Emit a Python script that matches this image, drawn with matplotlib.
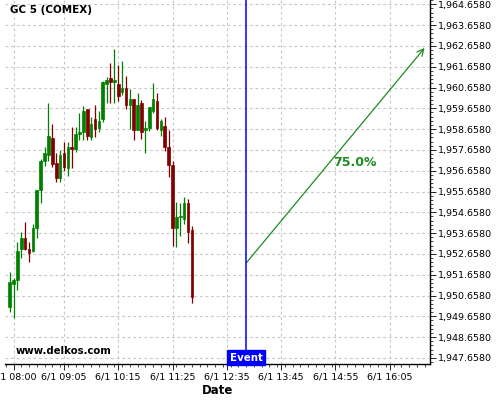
import numpy as np
import pandas as pd
import matplotlib
matplotlib.use("Agg")
import matplotlib.pyplot as plt
import matplotlib.dates as mdates
from matplotlib.ticker import FuncFormatter, FixedLocator
from matplotlib.transforms import blended_transform_factory

# 5-minute candles, 6/1 from 07:55
opens = [1950.12, 1951.23, 1951.40, 1952.89, 1953.41, 1952.89, 1952.81, 1953.92,
         1955.73, 1957.14, 1957.41, 1958.22, 1957.01, 1956.32, 1957.49, 1956.77,
         1957.81, 1957.72, 1958.42, 1958.52, 1959.61, 1958.26, 1959.13, 1958.73,
         1959.14, 1960.83, 1961.12, 1960.92, 1960.83, 1960.44, 1960.63, 1959.82,
         1960.09, 1958.62, 1959.91, 1958.62, 1958.71, 1959.54, 1960.01, 1958.62,
         1958.81, 1957.81, 1956.95, 1953.92, 1954.43, 1954.35, 1955.11, 1953.79]
highs = [1951.77, 1951.51, 1953.24, 1953.73, 1954.18, 1953.22, 1954.08, 1955.73,
         1957.21, 1957.78, 1959.90, 1958.89, 1957.49, 1957.65, 1958.02, 1958.02,
         1958.77, 1958.77, 1959.42, 1959.78, 1959.61, 1959.25, 1959.80, 1959.53,
         1960.99, 1961.18, 1961.82, 1962.50, 1961.73, 1961.92, 1961.21, 1960.60,
         1960.09, 1960.41, 1960.06, 1959.05, 1959.71, 1960.89, 1960.41, 1959.16,
         1959.23, 1958.62, 1957.12, 1955.17, 1955.09, 1955.39, 1955.30, 1954.01]
lows = [1949.88, 1949.59, 1950.92, 1952.48, 1952.85, 1952.28, 1952.76, 1953.41,
        1955.09, 1956.90, 1957.12, 1956.82, 1956.10, 1956.13, 1956.64, 1956.40,
        1956.77, 1957.57, 1958.13, 1958.13, 1958.13, 1958.13, 1958.29, 1958.50,
        1959.00, 1959.90, 1959.90, 1959.90, 1960.02, 1960.31, 1959.61, 1958.68,
        1958.12, 1958.62, 1958.20, 1957.49, 1958.58, 1959.45, 1958.62, 1958.33,
        1957.59, 1956.37, 1953.05, 1952.98, 1953.50, 1954.08, 1953.20, 1950.28]
closes = [1951.29, 1951.39, 1952.80, 1953.41, 1952.89, 1952.72, 1953.89, 1955.73,
          1957.12, 1957.49, 1958.33, 1956.97, 1956.32, 1957.41, 1956.85, 1957.78,
          1957.72, 1958.42, 1958.52, 1959.53, 1958.34, 1958.90, 1958.65, 1959.06,
          1960.92, 1961.02, 1960.94, 1961.02, 1960.26, 1960.63, 1959.82, 1960.09,
          1958.62, 1959.82, 1958.52, 1958.71, 1959.71, 1960.11, 1958.71, 1959.05,
          1957.81, 1956.95, 1953.92, 1954.45, 1954.50, 1955.11, 1953.73, 1950.60]
times = pd.date_range("2024-06-01 07:55", periods=len(opens), freq="5min")

event_time = pd.Timestamp("2024-06-01 13:00")
arrow_start = 1952.22
arrow_end_time = pd.Timestamp("2024-06-01 16:50")
arrow_end = 1962.56
prob_text = "75.0%"
prob_time = pd.Timestamp("2024-06-01 15:20")
prob_price = 1957.03

tick_times = ["08:00", "09:05", "10:15", "11:25", "12:35", "13:45", "14:55", "16:05"]
y_major = [1947.658 + k for k in range(18)]

x = mdates.date2num(times)
ev = mdates.date2num(event_time)
minute = 1 / 1440.

fig = plt.figure(figsize=(5, 4), dpi=100)
ax = fig.add_axes([0.01, 0.09, 0.85, 0.91])

green, red = "#008000", "#800000"
for xi, o, h, l, c in zip(x, opens, highs, lows, closes):
    col = green if c >= o else red
    ax.vlines(xi, l, h, color=col, lw=0.9, zorder=3)
    ax.bar(xi, max(abs(c - o), 0.05), width=3.4 * minute, bottom=min(o, c),
           color=col, edgecolor=col, lw=0.5, zorder=4)

# event marker
ax.axvline(ev, color="#0000ff", lw=1.1, zorder=5)
trans = blended_transform_factory(ax.transData, ax.transAxes)
ax.text(ev, 0.003, "Event", transform=trans, ha="center", va="bottom",
        color="white", fontsize=7.4, fontweight="bold", zorder=6,
        bbox=dict(boxstyle="square,pad=0.25", fc="#0000ff", ec="#0000ff"))

# projection arrow
ax.annotate("", xy=(mdates.date2num(arrow_end_time), arrow_end),
            xytext=(ev, arrow_start),
            arrowprops=dict(arrowstyle="->", color="#1f8a1f", lw=0.9,
                            shrinkA=0, shrinkB=0, mutation_scale=12))
ax.text(mdates.date2num(prob_time), prob_price, prob_text, color="#1f8a1f",
        fontsize=9, fontweight="bold", ha="center", va="center")

ax.text(0.012, 0.985, "GC 5 (COMEX)", transform=ax.transAxes, fontsize=7.5,
        fontweight="bold", va="top", ha="left")
ax.text(0.024, 0.022, "www.delkos.com", transform=ax.transAxes, fontsize=7.3,
        fontweight="bold", va="bottom", ha="left")

ax.set_xlim(mdates.date2num(pd.Timestamp("2024-06-01 07:49")),
            mdates.date2num(pd.Timestamp("2024-06-01 16:57")))
ax.set_ylim(1947.365, 1964.865)

ticks = [mdates.date2num(pd.Timestamp("2024-06-01 " + t)) for t in tick_times]
ax.xaxis.set_major_locator(FixedLocator(ticks))
ax.xaxis.set_major_formatter(mdates.DateFormatter("%-m/%-d %H:%M"))
ax.xaxis.set_minor_locator(mdates.MinuteLocator(byminute=range(0, 60, 10)))
ax.set_xlabel("Date", fontsize=8.5, fontweight="bold", labelpad=2)

ax.yaxis.tick_right()
ax.yaxis.set_major_locator(FixedLocator(y_major))
ax.yaxis.set_minor_locator(FixedLocator(
    [1947.658 + 0.2 * k for k in range(-2, 90)]))
ax.yaxis.set_major_formatter(FuncFormatter(lambda v, p: f"{v:,.4f}"))

ax.tick_params(axis="both", which="major", labelsize=6.8, length=4, width=0.6,
               pad=2, colors="black")
ax.tick_params(axis="both", which="minor", length=2, width=0.5)

ax.grid(True, which="major", color="#c8c8c8", ls=(0, (2.5, 2.5)), lw=0.8)
ax.set_axisbelow(True)
for side in ["left", "top"]:
    ax.spines[side].set_visible(False)
for side in ["right", "bottom"]:
    ax.spines[side].set_linewidth(1.0)

fig.savefig("out.png", dpi=100)
